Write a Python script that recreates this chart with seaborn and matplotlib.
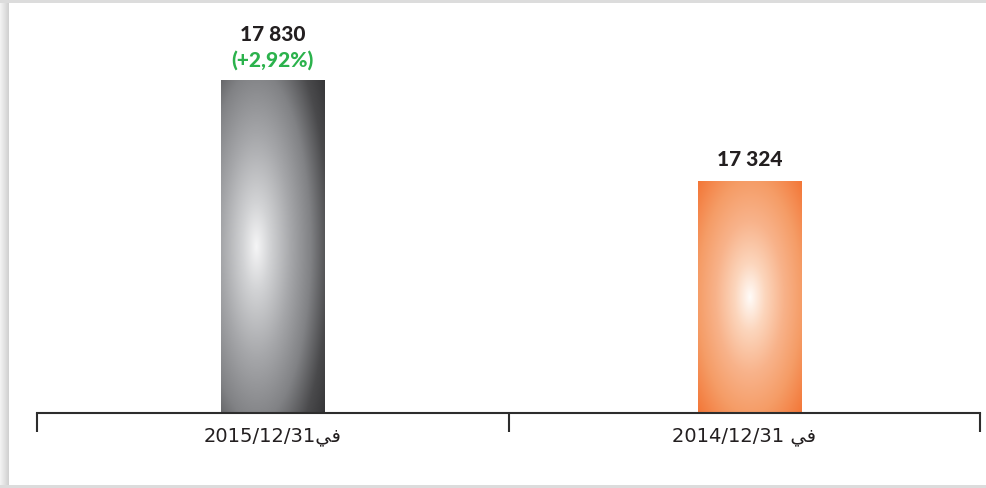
import numpy as np
import pandas as pd
import matplotlib
matplotlib.use("Agg")
import matplotlib.pyplot as plt
import seaborn as sns
from matplotlib.colors import LinearSegmentedColormap
from matplotlib.patches import Rectangle

periods = ["2015", "2014"]
values = [17830, 17324]
value_labels = ["17 830", "17 324"]
change_labels = ["(+2,92%)", ""]
# "في" in Arabic presentation forms, visual order (matplotlib does no RTL shaping)
tick_labels = ["2015/12/31\ufef2\ufed3", "2014/12/31 \ufef2\ufed3"]
bar_colors = ["#808184", "#f37536"]

df = pd.DataFrame({"period": periods, "value": values})

gray_cmap = LinearSegmentedColormap.from_list(
    "gr", [(0, "#f5f5f6"), (0.15, "#d2d3d5"), (0.38, "#a6a7aa"), (0.6, "#818285"),
           (0.8, "#4a4a4c"), (1.0, "#2f2f31")])
orange_cmap = LinearSegmentedColormap.from_list(
    "or", [(0, "#fffbf8"), (0.2, "#fcd6bd"), (0.45, "#f8b38b"), (0.7, "#f59c66"),
           (1.0, "#f37333")])
grad = [(gray_cmap, 0.34, 1.75), (orange_cmap, 0.5, 1.45)]

sns.set_style("white")
fig = plt.figure(figsize=(9.86, 4.88), dpi=100)
fig.patch.set_facecolor("#dcdcdc")
fig.add_artist(Rectangle((9 / 986, 3 / 488), 977 / 986, 482 / 488, transform=fig.transFigure,
                         facecolor="white", edgecolor="none", zorder=0))
# soft shadow on the left edge
for i in range(9):
    c = 0.95 - 0.13 * (i / 8)
    fig.add_artist(Rectangle((i / 986, 3 / 488), 1 / 986, 482 / 488, transform=fig.transFigure,
                             facecolor=(c, c, c), edgecolor="none", zorder=0))

ax = fig.add_axes([37 / 986, 75 / 488, 943 / 986, 403 / 488])
ax.patch.set_alpha(0)
sns.barplot(data=df, x="period", y="value", hue="period", order=periods,
            palette=bar_colors, width=0.22, legend=False, saturation=1, ax=ax)
ylim = (16162, 18181)
ax.set_ylim(ylim)

for i, patch in enumerate(ax.patches):
    # nudge the second bar slightly right, as in the original layout
    if i == 1:
        patch.set_x(patch.get_x() + 0.011)
    cmap, cu, dmax = grad[i]
    x0, w = patch.get_x(), patch.get_width()
    y0 = max(patch.get_y(), ylim[0])
    y1 = patch.get_y() + patch.get_height()
    u, v = np.meshgrid(np.linspace(0, 1, 200), np.linspace(0, 1, 400))
    d = np.sqrt(((u - cu) / 0.5) ** 2 + ((v - 0.5) / 0.5) ** 2) / dmax
    img = cmap(np.clip(d, 0, 1))
    im = ax.imshow(img, extent=[x0, x0 + w, y0, y1], origin="lower", aspect="auto",
                   zorder=patch.get_zorder() + 0.1)
    im.set_clip_path(patch)

ax.set_xlim(-0.5, 1.5)
ax.set_ylim(ylim)

for i, v in enumerate(values):
    p = ax.patches[i]
    xc = p.get_x() + p.get_width() / 2
    off = 28 if change_labels[i] else 11
    ax.annotate(value_labels[i], (xc, v), xytext=(0, off), textcoords="offset points",
                ha="center", va="baseline", fontsize=15, fontweight="black",
                family=["Lato", "DejaVu Sans"], color="#231f20")
    if change_labels[i]:
        ax.annotate(change_labels[i], (xc, v), xytext=(0, 9.5), textcoords="offset points",
                    ha="center", va="baseline", fontsize=15, fontweight="black",
                    family=["Lato", "DejaVu Sans"], color="#2bb24c")

sns.despine(ax=ax, left=True)
ax.spines["bottom"].set_color("#2d2d2d")
ax.spines["bottom"].set_linewidth(1.5)
ax.set_yticks([])
ax.set_xlabel("")
ax.set_ylabel("")
ax.set_xticks([0, 1], tick_labels)
ax.set_xticks([-0.5, 0.5, 1.5], minor=True)
ax.tick_params(axis="x", which="major", length=0, pad=10, labelsize=14, labelcolor="#231f20")
ax.tick_params(axis="x", which="minor", bottom=True, length=14, width=1.5, color="#2d2d2d",
               direction="out")
for t in ax.get_xticklabels():
    t.set_fontfamily(["DejaVu Sans"])

fig.savefig("out.png", dpi=100)
